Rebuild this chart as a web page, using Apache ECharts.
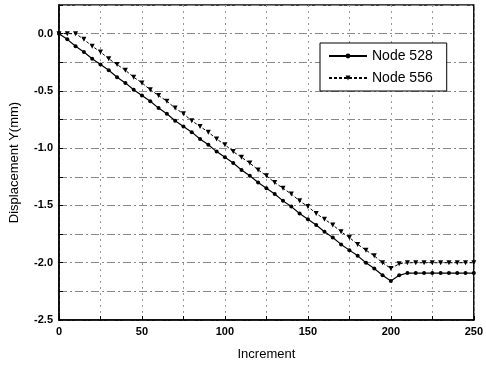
<!DOCTYPE html>
<html>
<head>
<meta charset="utf-8">
<script src="https://cdn.jsdelivr.net/npm/echarts@6/dist/echarts.min.js"></script>
<style>
  html, body { margin: 0; padding: 0; background: #fff; }
  #chart { width: 486px; height: 368px; }
</style>
</head>
<body>
<div id="chart"></div>
<script>
// increments, every 5 steps
const increments = [0, 5, 10, 15, 20, 25, 30, 35, 40, 45, 50, 55, 60, 65, 70, 75, 80, 85, 90, 95,
  100, 105, 110, 115, 120, 125, 130, 135, 140, 145, 150, 155, 160, 165, 170, 175, 180, 185, 190, 195,
  200, 205, 210, 215, 220, 225, 230, 235, 240, 245, 250];

const node528 = [0, -0.05, -0.11, -0.16, -0.22, -0.27, -0.32, -0.38, -0.43, -0.49, -0.54, -0.59, -0.65, -0.70, -0.76, -0.81, -0.86, -0.92, -0.97, -1.03,
  -1.08, -1.13, -1.19, -1.24, -1.30, -1.35, -1.40, -1.46, -1.51, -1.57, -1.62, -1.67, -1.73, -1.78, -1.84, -1.89, -1.94, -2.00, -2.05, -2.11,
  -2.16, -2.11, -2.09, -2.09, -2.09, -2.09, -2.09, -2.09, -2.09, -2.09, -2.09];

const node556 = [0, 0, 0, -0.05, -0.11, -0.16, -0.22, -0.27, -0.32, -0.38, -0.43, -0.49, -0.54, -0.59, -0.65, -0.70, -0.76, -0.81, -0.86, -0.92,
  -0.97, -1.03, -1.08, -1.13, -1.19, -1.24, -1.30, -1.35, -1.40, -1.46, -1.51, -1.57, -1.62, -1.67, -1.73, -1.78, -1.84, -1.89, -1.94, -2.00,
  -2.05, -2.01, -2.00, -2.00, -2.00, -2.00, -2.00, -2.00, -2.00, -2.00, -2.00];

const seriesNames = ['Node 528', 'Node 556'];

const pair = (ys) => increments.map((x, i) => [x, ys[i]]);

const font = 'Liberation Sans, Arial, sans-serif';

let myChart = echarts.init(document.getElementById('chart'));

let options = {
  animation: false,
  backgroundColor: '#fff',
  grid: { left: 56, right: 10, top: 5, bottom: 48, show: true, borderColor: '#000', borderWidth: 1.5 },
  legend: {
    left: 320,
    top: 43,
    orient: 'vertical',
    data: seriesNames,
    itemWidth: 38,
    itemHeight: 6,
    itemGap: 8,
    padding: [6, 14, 6, 8],
    borderColor: '#000',
    borderWidth: 1,
    backgroundColor: '#fff',
    textStyle: { fontFamily: font, fontSize: 14, color: '#000' }
  },
  xAxis: {
    type: 'value',
    min: 0,
    max: 250,
    interval: 25,
    name: 'Increment',
    nameLocation: 'middle',
    nameGap: 28,
    nameTextStyle: { fontFamily: font, fontSize: 13, color: '#000' },
    axisLine: { onZero: false, lineStyle: { color: '#000', width: 1.5 } },
    axisTick: { inside: true, length: 4, lineStyle: { color: '#000' } },
    axisLabel: {
      fontFamily: font, fontSize: 11, fontWeight: 'bold', color: '#000', margin: 6,
      formatter: (v) => (v % 50 === 0 ? String(v) : '')
    },
    splitLine: { show: true, lineStyle: { color: '#999', type: [2, 4], width: 1 } }
  },
  yAxis: {
    type: 'value',
    min: -2.5,
    max: 0.25,
    interval: 0.25,
    name: 'Displacement Y(mm)',
    nameLocation: 'middle',
    nameGap: 38,
    nameTextStyle: { fontFamily: font, fontSize: 13, color: '#000' },
    axisLine: { show: true, onZero: false, lineStyle: { color: '#000', width: 1.5 } },
    axisTick: { show: true, inside: true, length: 4, lineStyle: { color: '#000' } },
    axisLabel: {
      fontFamily: font, fontSize: 11, fontWeight: 'bold', color: '#000', margin: 6,
      formatter: (v) => (Math.abs(v * 2 - Math.round(v * 2)) < 1e-6 && v <= 0 ? v.toFixed(1) : '')
    },
    splitLine: { show: true, lineStyle: { color: '#888', type: [8, 3, 2, 3], width: 1 } }
  },
  series: [
    {
      name: seriesNames[0],
      type: 'line',
      data: pair(node528),
      symbol: 'circle',
      symbolSize: 4,
      itemStyle: { color: '#000' },
      lineStyle: { color: '#000', width: 1.2 }
    },
    {
      name: seriesNames[1],
      type: 'line',
      data: pair(node556),
      symbol: 'triangle',
      symbolRotate: 180,
      symbolSize: 5,
      itemStyle: { color: '#000' },
      lineStyle: { color: '#000', width: 1, type: [3, 2] }
    }
  ]
};

myChart.setOption(options);
</script>
</body>
</html>
